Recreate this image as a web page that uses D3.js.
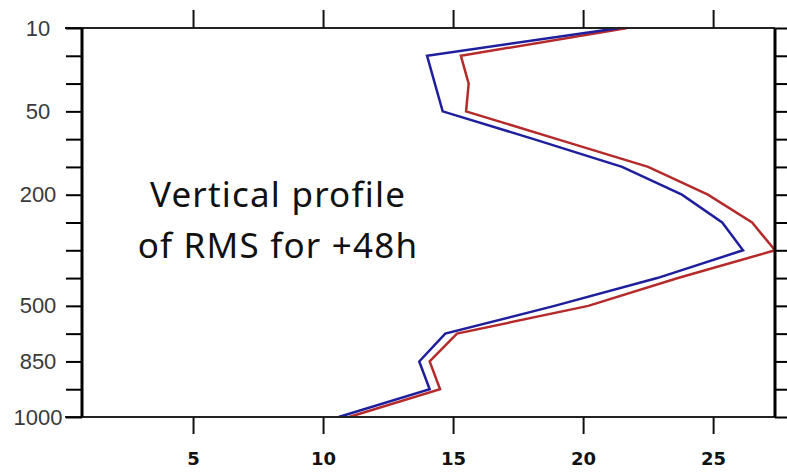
<!DOCTYPE html>
<html>
<head>
<meta charset="utf-8">
<script src="https://cdn.jsdelivr.net/npm/d3@7"></script>
<style>
  html, body { margin: 0; padding: 0; background: #fff; }
  svg { display: block; }
</style>
</head>
<body>
<svg id="chart" width="787" height="473"></svg>
<script>
// ---- data ----
const levels = ["10","20","30","50","70","100","200","250","300","400","500","700","850","925","1000"];
const labeledLevels = ["10","50","200","500","850","1000"];
const blueValues = [21.4, 14.0, 14.3, 14.6, 18.1, 21.5, 23.8, 25.35, 26.15, 22.85, 18.9, 14.7, 13.7, 14.1, 10.6];
const redValues  = [21.7, 15.3, 15.6, 15.5, 19.0, 22.5, 24.8, 26.5, 27.38, 23.65, 20.2, 15.15, 14.1, 14.5, 11.0];
const xTicks = [5, 10, 15, 20, 25];
const xDomain = [0.73, 27.38];
const noteLines = ["Vertical profile", "of RMS for +48h"];

// ---- layout ----
const L = 82, R = 775, T = 28, B = 417;
const svg = d3.select("#chart");

const x = d3.scaleLinear().domain(xDomain).range([L, R]);
const y = d3.scalePoint().domain(levels).range([T, B]).padding(0);

// lines
const line = d3.line()
  .x(d => x(d.v))
  .y(d => y(d.l));

const red = levels.map((l, i) => ({ l, v: redValues[i] }));
const blue = levels.map((l, i) => ({ l, v: blueValues[i] }));

svg.append("path").datum(red)
  .attr("d", line).attr("fill", "none")
  .attr("stroke", "#b52a2a").attr("stroke-width", 2.5)
  .attr("stroke-linejoin", "miter");
svg.append("path").datum(blue)
  .attr("d", line).attr("fill", "none")
  .attr("stroke", "#1f1f9e").attr("stroke-width", 2.5)
  .attr("stroke-linejoin", "miter");

// frame lines
svg.append("line").attr("x1", L - 17).attr("x2", R).attr("y1", T).attr("y2", T)
  .attr("stroke", "#222").attr("stroke-width", 2);
svg.append("line").attr("x1", L - 17).attr("x2", R).attr("y1", B).attr("y2", B)
  .attr("stroke", "#222").attr("stroke-width", 2);
svg.append("line").attr("x1", L).attr("x2", L).attr("y1", T).attr("y2", B)
  .attr("stroke", "#000").attr("stroke-width", 3);
svg.append("line").attr("x1", R).attr("x2", R).attr("y1", T).attr("y2", B)
  .attr("stroke", "#000").attr("stroke-width", 3);

// left axis
const leftAxis = d3.axisLeft(y).tickSize(16).tickFormat(d => labeledLevels.includes(d) ? d : "");
const gl = svg.append("g").attr("transform", `translate(${L},0)`).call(leftAxis);
gl.select(".domain").remove();
gl.selectAll(".tick line").attr("stroke", "#000").attr("stroke-width", 2);
gl.selectAll(".tick text")
  .attr("x", -44).attr("text-anchor", "middle")
  .attr("font-family", "'Liberation Sans', Arial, sans-serif")
  .attr("font-size", 22).attr("fill", "#3a3a3a");

// right axis
const rightAxis = d3.axisRight(y).tickSize(16).tickFormat("");
const gr = svg.append("g").attr("transform", `translate(${R},0)`).call(rightAxis);
gr.select(".domain").remove();
gr.selectAll(".tick line").attr("stroke", "#000").attr("stroke-width", 2);

// bottom axis
const bottomAxis = d3.axisBottom(x).tickValues(xTicks).tickSize(17).tickPadding(18).tickFormat(d3.format("d"));
const gb = svg.append("g").attr("transform", `translate(0,${B})`).call(bottomAxis);
gb.select(".domain").remove();
gb.selectAll(".tick line").attr("stroke", "#111").attr("stroke-width", 2);
gb.selectAll(".tick text")
  .attr("font-family", "'DejaVu Sans', sans-serif")
  .attr("font-weight", "bold")
  .attr("font-size", 18).attr("fill", "#111");

// top axis
const topAxis = d3.axisTop(x).tickValues(xTicks).tickSize(18).tickFormat("");
const gt = svg.append("g").attr("transform", `translate(0,${T})`).call(topAxis);
gt.select(".domain").remove();
gt.selectAll(".tick line").attr("stroke", "#111").attr("stroke-width", 2);

// annotation
const note = svg.append("g")
  .attr("font-family", "'Comic Sans MS', 'Noto Sans', sans-serif")
  .attr("font-size", 35).attr("letter-spacing", 1.2)
  .attr("fill", "#111").attr("text-anchor", "middle");
note.selectAll("text").data(noteLines).join("text")
  .attr("x", 278)
  .attr("y", (d, i) => 207 + i * 51)
  .text(d => d);
</script>
</body>
</html>
